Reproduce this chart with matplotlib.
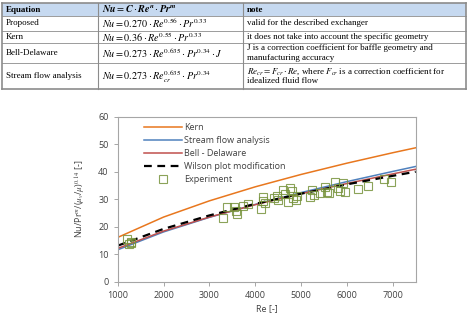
import matplotlib.pyplot as plt

plt.rcParams['mathtext.fontset'] = 'stix'

# table contents
tab_header = ["Equation",
              r"$\mathbfit{Nu} = \mathbfit{C} \cdot \mathbfit{Re}^{\mathbfit{n}} \cdot \mathbfit{Pr}^{\mathbfit{m}}$",
              "note"]
tab_names = ["Proposed", "Kern", "Bell-Delaware", "Stream flow analysis"]
tab_eqs = [r"$Nu = 0.270 \cdot Re^{0.56} \cdot Pr^{0.33}$",
           r"$Nu = 0.36 \cdot Re^{0.55} \cdot Pr^{0.33}$",
           r"$Nu = 0.273 \cdot Re^{0.635} \cdot Pr^{0.34} \cdot J$",
           r"$Nu = 0.273 \cdot Re_{cr}^{0.635} \cdot Pr^{0.34}$"]
tab_notes = [["valid for the described exchanger"],
             ["it does not take into account the specific geometry"],
             ["J is a correction coefficient for baffle geometry and",
              "manufacturing accuracy"],
             [r"$Re_{cr} = F_{cr} \cdot Re$, where $F_{cr}$ is a correction coefficient for",
              "idealized fluid flow"]]

# correlation curves
re_line = [1000, 2000, 3000, 4000, 5000, 6000, 7000, 7500]
kern = [16.1, 23.5, 29.4, 34.5, 39.0, 43.1, 46.9, 48.7]
stream = [11.6, 18.1, 23.4, 28.1, 32.4, 36.4, 40.1, 41.9]
bell = [12.1, 18.4, 23.5, 28.0, 32.0, 35.7, 39.2, 40.9]
wilson = [13.1, 19.2, 24.1, 28.3, 32.0, 35.4, 38.5, 40.0]

# experiment points
re_exp = [1196, 1284, 1253, 1300, 3293, 3380, 3540, 3598, 3583, 3729, 3852,
          4129, 4166, 4216, 4180, 4472, 4507, 4616, 4725, 4762, 4799, 4834,
          4893, 4921, 5199, 5236, 5271, 5402, 5526, 5563, 5598, 5745, 5795,
          5853, 5913, 5963, 6231, 6450, 6799, 6961, 4400, 4650]
nu_exp = [15.5, 14.2, 13.7, 14.6, 23.0, 27.3, 27.3, 24.5, 25.8, 27.5, 28.3,
          26.3, 30.9, 28.5, 29.5, 31.2, 29.7, 33.3, 29.1, 34.0, 33.0, 30.3,
          29.7, 31.2, 30.9, 33.3, 31.5, 32.1, 34.5, 32.7, 32.1, 36.4, 34.0,
          33.0, 35.8, 32.7, 33.6, 34.9, 37.2, 36.4, 30.5, 31.8]

fig = plt.figure(figsize=(4.69, 3.13), dpi=100)
W, H = 469, 313

def fx(px):
    return px / W

def fy(py):
    return 1 - py / H

# --- table ---
col_x = [1.7, 97.7, 242.7, 465.7]
row_y = [3.3, 16, 30.7, 42.7, 63.3, 89.3]
border = '#8c8c8c'
fig.patches.append(plt.Rectangle((fx(col_x[0]), fy(row_y[1])), fx(col_x[3] - col_x[0]),
                                 (row_y[1] - row_y[0]) / H, transform=fig.transFigure,
                                 facecolor='#c6d9f0', edgecolor='none', zorder=0))
for y in row_y:
    lw = 1.2 if y in (row_y[0], row_y[-1]) else 0.6
    fig.add_artist(plt.Line2D([fx(col_x[0]), fx(col_x[3])], [fy(y), fy(y)], color=border, lw=lw))
for x in col_x:
    lw = 1.2 if x in (col_x[0], col_x[3]) else 0.8
    fig.add_artist(plt.Line2D([fx(x), fx(x)], [fy(row_y[0]), fy(row_y[-1])], color=border, lw=lw))

tfont = dict(family='Liberation Serif', fontsize=6.5, va='center', ha='left')
mfont = dict(tfont, fontsize=7.3)
fig.text(fx(col_x[0] + 4), fy((row_y[0] + row_y[1]) / 2), tab_header[0], fontweight='bold', **tfont)
fig.text(fx(col_x[1] + 4), fy((row_y[0] + row_y[1]) / 2), tab_header[1], **mfont)
fig.text(fx(col_x[2] + 4), fy((row_y[0] + row_y[1]) / 2), tab_header[2], fontweight='bold', **tfont)
for i in range(4):
    yc = (row_y[i + 1] + row_y[i + 2]) / 2
    fig.text(fx(col_x[0] + 4), fy(yc), tab_names[i], **tfont)
    fig.text(fx(col_x[1] + 4), fy(yc), tab_eqs[i], **mfont)
    lines = tab_notes[i]
    n = len(lines)
    for j, ln in enumerate(lines):
        fig.text(fx(col_x[2] + 4), fy(yc + (j - (n - 1) / 2) * 9.5), ln, **tfont)

# --- chart ---
ax = fig.add_axes([fx(117.7), fy(281.7), fx(415.7 - 117.7), (281.7 - 116.7) / H])
ax.plot(re_line, kern, color='#e8771e', lw=1.1, label='Kern')
ax.plot(re_line, stream, color='#4f81bd', lw=1.1, label='Stream flow analysis')
ax.plot(re_line, bell, color='#c0504d', lw=1.1, label='Bell - Delaware')
ax.plot(re_line, wilson, color='black', lw=1.6, ls=(0, (3.5, 2.5)), label='Wilson plot modification')
ax.plot(re_exp, nu_exp, ls='none', marker='s', ms=5.5, mfc='none', mec='#77933c',
        mew=0.8, alpha=0.85, label='Experiment')

ax.set_xlim(1000, 7500)
ax.set_ylim(0, 60)
ax.set_xticks(range(1000, 8000, 1000))
ax.set_yticks(range(0, 70, 10))
for s in ax.spines.values():
    s.set_color('#a6a6a6')
ax.tick_params(colors='#a6a6a6', labelcolor='#404040', labelsize=6.5, length=3, width=0.7)
for lab in ax.get_xticklabels() + ax.get_yticklabels():
    lab.set_family('Open Sans')
ax.set_xlabel('Re [-]', fontsize=6.5, family='Open Sans', color='#404040', labelpad=3)
ax.set_ylabel(r'Nu/Pr$^{m}$/($\mu_v$/$\mu$)$^{0.14}$ [-]', fontsize=6.5, family='Open Sans',
              color='#404040', labelpad=7)
leg = ax.legend(loc='upper left', bbox_to_anchor=(0.06, 1.01), frameon=False,
                prop={'family': 'Open Sans', 'size': 6.5}, handlelength=4.2,
                labelspacing=0.45, handletextpad=0.3)
for t in leg.get_texts():
    t.set_color('#404040')

fig.savefig('out.png', dpi=100)
